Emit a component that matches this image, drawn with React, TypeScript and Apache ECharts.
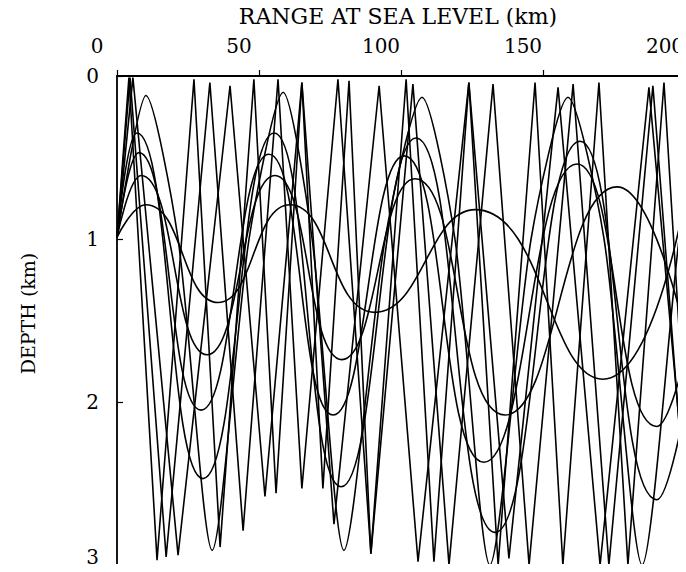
import React, { useEffect, useRef } from "react";
import * as echarts from "echarts";

// Axis ticks
const rangeTicks = [0, 50, 100, 150, 200];
const depthTicks = [0, 1, 2, 3];

// Rays: [range km, depth km] turning points
const rayA = [[0, 0.99], [10.2, 0.79], [35.6, 1.39], [60.9, 0.79], [90.8, 1.45], [126.1, 0.82], [171.1, 1.86], [200.4, 0.72]];
const rayB = [[0, 0.99], [8.5, 0.61], [31.7, 1.71], [55.6, 0.61], [79.2, 1.74], [104.9, 0.63], [136.6, 2.08], [176.1, 0.68], [200.4, 1.6]];
const rayC = [[0, 0.99], [7.7, 0.47], [29.6, 2.05], [53.5, 0.48], [76.1, 2.08], [101.1, 0.49], [129.2, 2.37], [162.0, 0.54], [190.1, 2.15], [200.4, 1.7]];
const rayD = [[0, 0.99], [7.0, 0.35], [30.3, 2.47], [55.3, 0.35], [78.9, 2.52], [105.3, 0.38], [133.1, 2.8], [163.0, 0.4], [190.1, 2.6], [200.4, 2.0]];
const rayE = [[0, 0.99], [10.2, 0.12], [21.5, 1.0], [33.5, 2.91], [46.5, 1.0], [58.5, 0.1], [68.7, 1.0], [79.9, 2.91], [94.4, 1.0], [107.4, 0.13], [119.0, 1.0], [131.3, 3.0], [145.8, 1.0], [158.8, 0.13], [171.5, 1.0], [184.9, 3.0], [197.9, 1.0], [200.4, 0.8]];

const steepA = [[0, 0.99], [4.2, 0.01], [14.1, 2.97], [27.1, 0.02], [36.3, 2.89], [48.2, 0.02], [56.0, 2.56], [65.1, 0.04], [72.5, 2.53], [81.7, 0.03], [89.4, 2.93], [101.8, 0.02], [111.6, 2.98], [123.9, 0.04], [134.2, 3.0], [147.2, 0.04], [157.0, 3.0], [169.7, 0.04], [179.9, 3.0], [192.6, 0.04], [200.4, 2.26]];
const steepB = [[0, 0.99], [4.6, 0.01], [17.3, 2.95], [32.7, 0.04], [44.4, 2.79], [56.7, 0.02], [65.1, 2.53], [77.8, 0.02], [89.4, 2.93], [104.2, 0.05], [116.9, 3.0], [132.4, 0.05], [145.1, 3.0], [160.6, 0.05], [173.2, 3.0], [188.7, 0.06], [200.4, 2.7]];
const steepC = [[0, 0.99], [5.6, 0.01], [21.5, 2.94], [39.8, 0.06], [52.1, 2.58], [65.1, 0.04], [76.4, 2.75], [92.3, 0.06], [106.0, 2.98], [123.9, 0.04], [138.0, 2.96], [155.3, 0.07], [170.1, 3.0], [187.3, 0.07], [200.4, 2.6]];

const rays = [
  { data: rayA, smooth: 0.5 },
  { data: rayB, smooth: 0.5 },
  { data: rayC, smooth: 0.5 },
  { data: rayD, smooth: 0.5 },
  { data: rayE, smooth: 0.25 },
  { data: steepA, smooth: false },
  { data: steepB, smooth: false },
  { data: steepC, smooth: false },
];

const FONT = "DejaVu Serif";

export default function App() {
  const ref = useRef<HTMLDivElement>(null);
  useEffect(() => {
    if (!ref.current) return;
    const chart = echarts.init(ref.current, undefined, { renderer: "svg" });
    chart.setOption({
      animation: false,
      backgroundColor: "#fff",
      grid: {
        left: 117,
        top: 76,
        width: 568,
        height: 489,
        containLabel: false,
        outerBoundsMode: "none",
        show: true,
        borderColor: "#000",
        borderWidth: 1.8,
        backgroundColor: "transparent",
      },
      xAxis: [
        {
          type: "value",
          min: rangeTicks[0],
          max: rangeTicks[rangeTicks.length - 1],
          interval: 50,
          position: "bottom",
          axisLine: { show: false },
          axisTick: { show: true, inside: true, length: 6, lineStyle: { color: "#000", width: 1.2 } },
          axisLabel: { show: false },
          splitLine: { show: false },
        },
        {
          type: "value",
          min: rangeTicks[0],
          max: rangeTicks[rangeTicks.length - 1],
          interval: 50,
          position: "top",
          axisLine: { show: false },
          axisTick: { show: false },
          axisLabel: {
            show: true,
            color: "#000",
            fontFamily: FONT,
            fontSize: 20,
            margin: 20,
            padding: [0, 40, 0, 0],
          },
          splitLine: { show: false },
          name: "RANGE AT SEA LEVEL (km)",
          nameLocation: "middle",
          nameGap: 49,
          nameTextStyle: { color: "#000", fontFamily: FONT, fontSize: 22, padding: [0, 6, 0, 0] },
        },
      ],
      yAxis: {
        type: "value",
        inverse: true,
        min: depthTicks[0],
        max: depthTicks[depthTicks.length - 1],
        interval: 1,
        axisLine: { show: false },
        axisTick: { show: true, inside: true, length: 6, lineStyle: { color: "#000", width: 1.2 } },
        axisLabel: {
          color: "#000",
          fontFamily: FONT,
          fontSize: 20,
          margin: 18,
          formatter: (v: number) => (v === depthTicks[depthTicks.length - 1] ? "{last|" + v + "}" : "{n|" + v + "}"),
          rich: {
            n: { fontFamily: FONT, fontSize: 20, color: "#000" },
            last: { fontFamily: FONT, fontSize: 20, color: "#000", padding: [0, 0, 16, 0] },
          },
        },
        splitLine: { show: false },
        name: "DEPTH (km)",
        nameLocation: "middle",
        nameGap: 80,
        nameRotate: 90,
        nameTextStyle: { color: "#000", fontFamily: FONT, fontSize: 19, padding: [0, 0, 0, 14] },
      },
      series: rays.map((r, i) => ({
        name: "ray" + i,
        type: "line",
        xAxisIndex: 0,
        data: r.data,
        smooth: r.smooth,
        showSymbol: false,
        silent: true,
        clip: true,
        lineStyle: { color: "#000", width: 1.6 },
      })),
    });
    return () => chart.dispose();
  }, []);
  return <div ref={ref} style={{ width: 686, height: 572, margin: -8 }} />;
}
